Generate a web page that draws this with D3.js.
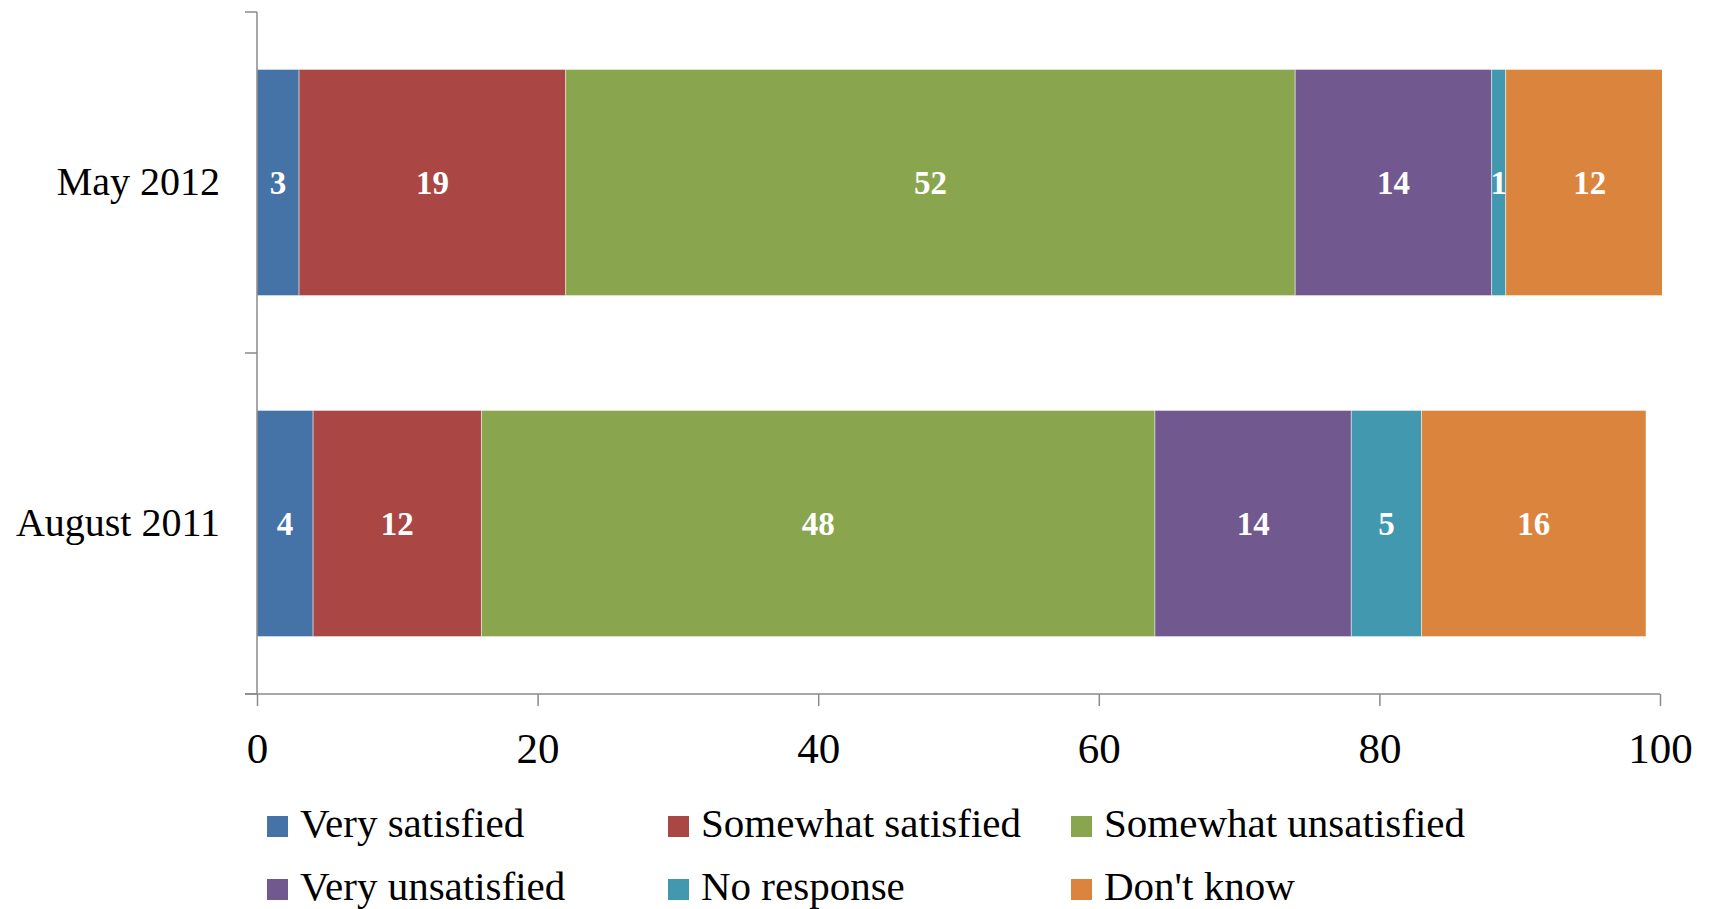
<!DOCTYPE html>
<html>
<head>
<meta charset="utf-8">
<script src="https://cdn.jsdelivr.net/npm/d3@7"></script>
<style>
  html, body { margin: 0; padding: 0; background: #fff; }
  svg { display: block; }
</style>
</head>
<body>
<svg id="chart" width="1709" height="909"></svg>
<script>
// ---- data ----
const categories = ["May 2012", "August 2011"];
const seriesNames = ["Very satisfied", "Somewhat satisfied", "Somewhat unsatisfied", "Very unsatisfied", "No response", "Don't know"];
const seriesColors = ["#4572A7", "#AA4643", "#89A54E", "#71588F", "#4198AF", "#DB843D"];
const may2012 = [3, 19, 52, 14, 1, 12];
const aug2011 = [4, 12, 48, 14, 5, 16];
const xTicks = [0, 20, 40, 60, 80, 100];

(function () {
const values = { "May 2012": may2012, "August 2011": aug2011 };

// ---- layout ----
const svg = d3.select("#chart");
const pLeft = 257, pRight = 1660, pTop = 12, pBottom = 694;
const fontFam = "'Liberation Serif', 'Times New Roman', serif";
const axisColor = "#8a8a8a";

const x = d3.scaleLinear().domain([0, 100]).range([pLeft, pRight]);
const y = d3.scaleBand().domain(categories).range([pTop, pBottom]).paddingInner(0.337).paddingOuter(0.1685);

// clip (bars beyond the axis max are cut like in the original)
svg.append("defs").append("clipPath").attr("id", "plotClip")
  .append("rect").attr("x", pLeft).attr("y", pTop).attr("width", pRight - pLeft + 2).attr("height", pBottom - pTop);

// stacked rows
const rows = categories.map(c => {
  let acc = 0;
  return values[c].map((v, i) => { const s = { cat: c, i, v, x0: acc, x1: acc + v }; acc += v; return s; });
});

const gBars = svg.append("g").attr("clip-path", "url(#plotClip)");
rows.forEach(r => {
  gBars.append("g").selectAll("rect").data(r).enter().append("rect")
    .attr("x", d => x(d.x0))
    .attr("y", d => y(d.cat))
    .attr("width", d => x(d.x1) - x(d.x0))
    .attr("height", y.bandwidth())
    .attr("fill", d => seriesColors[d.i])
    .attr("stroke", "rgba(255,255,255,0.45)")
    .attr("stroke-width", 1);
});

// value labels
rows.forEach(r => {
  svg.append("g").selectAll("text").data(r).enter().append("text")
    .attr("x", d => x((d.x0 + d.x1) / 2))
    .attr("y", d => y(d.cat) + y.bandwidth() / 2)
    .attr("dy", "0.35em")
    .attr("text-anchor", "middle")
    .attr("fill", "#fff")
    .attr("font-family", fontFam)
    .attr("font-weight", "bold")
    .attr("font-size", 33)
    .text(d => d.v);
});

// axes
const gx = svg.append("g").attr("transform", `translate(0,${pBottom})`)
  .call(d3.axisBottom(x).tickValues(xTicks).tickSize(12).tickPadding(0).tickFormat(d3.format("d")));
gx.select(".domain").remove();
gx.selectAll(".tick line").attr("stroke", axisColor).attr("stroke-width", 1.5);
gx.selectAll(".tick text")
  .attr("y", 69).attr("dy", null)
  .attr("font-family", fontFam).attr("font-size", 43).attr("fill", "#000");

const yTickPos = [pTop, (y("May 2012") + y.bandwidth() + y("August 2011")) / 2, pBottom];
svg.append("g").selectAll("line").data(yTickPos).enter().append("line")
  .attr("x1", pLeft - 12).attr("x2", pLeft).attr("y1", d => d).attr("y2", d => d)
  .attr("stroke", axisColor).attr("stroke-width", 1.5);

svg.append("line").attr("x1", pLeft).attr("x2", pLeft).attr("y1", pTop).attr("y2", pBottom)
  .attr("stroke", axisColor).attr("stroke-width", 1.5);
svg.append("line").attr("x1", pLeft - 12).attr("x2", pRight).attr("y1", pBottom).attr("y2", pBottom)
  .attr("stroke", axisColor).attr("stroke-width", 1.5);

// category labels
svg.append("g").selectAll("text").data(categories).enter().append("text")
  .attr("x", 220)
  .attr("y", d => y(d) + y.bandwidth() / 2)
  .attr("dy", "0.32em")
  .attr("text-anchor", "end")
  .attr("font-family", fontFam).attr("font-size", 40).attr("fill", "#000")
  .text(d => d);

// legend
const legX = [267, 668, 1071];
const legY = [837, 900];
const sw = 21;
const leg = svg.append("g").selectAll("g").data(seriesNames).enter().append("g")
  .attr("transform", (d, i) => `translate(${legX[i % 3]},${legY[Math.floor(i / 3)]})`);
leg.append("rect").attr("x", 0).attr("y", -sw).attr("width", sw).attr("height", sw)
  .attr("fill", (d, i) => seriesColors[i]);
leg.append("text").attr("x", sw + 12).attr("y", 0)
  .attr("font-family", fontFam).attr("font-size", 41).attr("fill", "#000")
  .text(d => d);
})();
</script>
</body>
</html>
